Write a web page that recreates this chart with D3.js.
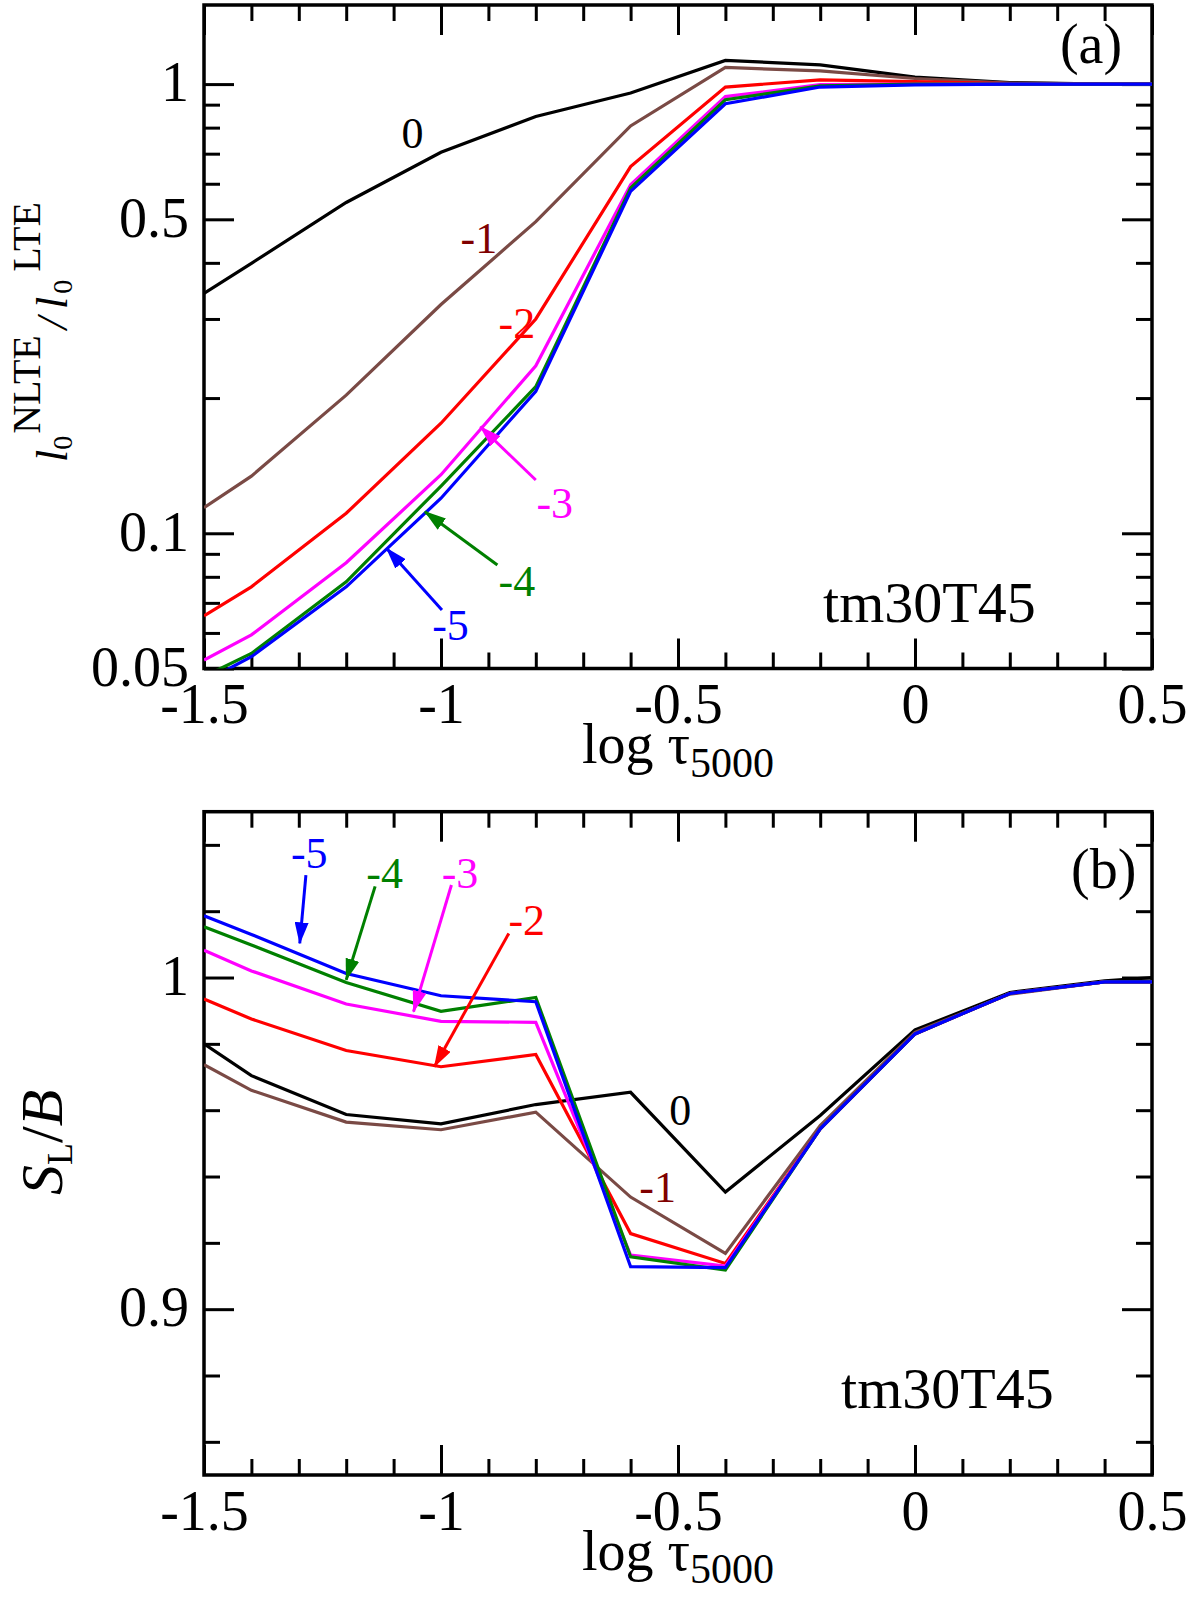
<!DOCTYPE html>
<html>
<head>
<meta charset="utf-8">
<script src="https://cdn.jsdelivr.net/npm/d3@7"></script>
<style>
  body { margin: 0; background: #fff; }
  svg { display: block; }
  text { font-family: "Liberation Serif", "Times New Roman", serif; }
</style>
</head>
<body>
<svg id="chart"></svg>
<script>
// log tau_5000 grid
const logTau = [-1.5, -1.4, -1.2, -1.0, -0.8, -0.6, -0.4, -0.2, 0, 0.2, 0.4, 0.5];
const curveNames = ["0", "-1", "-2", "-3", "-4", "-5"];

// (a) l0 NLTE / l0 LTE
const ratio0  = [0.342, 0.399, 0.545, 0.705, 0.847, 0.955, 1.129, 1.104, 1.036, 1.008, 1.0, 1.0];
const ratioM1 = [0.114, 0.134, 0.203, 0.323, 0.494, 0.807, 1.089, 1.070, 1.029, 1.005, 1.0, 1.0];
const ratioM2 = [0.0655, 0.076, 0.1108, 0.1758, 0.300, 0.655, 0.985, 1.022, 1.013, 1.002, 1.0, 1.0];
const ratioM3 = [0.0522, 0.0594, 0.086, 0.135, 0.236, 0.597, 0.938, 0.997, 1.0, 1.0, 1.0, 1.0];
const ratioM4 = [0.048, 0.054, 0.078, 0.1274, 0.212, 0.587, 0.923, 0.991, 1.0, 1.0, 1.0, 1.0];
const ratioM5 = [0.0467, 0.0531, 0.076, 0.1197, 0.207, 0.577, 0.904, 0.985, 0.996, 1.0, 1.0, 1.0];

// (b) S_L / B
const slb0  = [0.980, 0.9704, 0.9587, 0.9559, 0.9617, 0.9654, 0.9353, 0.9584, 0.9842, 0.9955, 0.999, 1.0];
const slbM1 = [0.9737, 0.966, 0.9564, 0.9541, 0.9594, 0.9338, 0.9168, 0.9554, 0.9835, 0.995, 0.9987, 0.9987];
const slbM2 = [0.9935, 0.9875, 0.978, 0.9731, 0.9768, 0.9228, 0.9138, 0.9544, 0.983, 0.9952, 0.9987, 0.9987];
const slbM3 = [1.0082, 1.002, 0.992, 0.9868, 0.9865, 0.9163, 0.913, 0.9544, 0.983, 0.9952, 0.9987, 0.9987];
const slbM4 = [1.0153, 1.0098, 0.9985, 0.9898, 0.994, 0.9158, 0.9118, 0.9544, 0.983, 0.9952, 0.9987, 0.9987];
const slbM5 = [1.0186, 1.013, 1.0012, 0.9945, 0.9927, 0.9128, 0.9125, 0.9544, 0.983, 0.9952, 0.9987, 0.9987];

// tick labels
const xTicks = [-1.5, -1, -0.5, 0, 0.5];
const yTicksA = [0.05, 0.1, 0.5, 1];
const yMinorA = [0.06, 0.07, 0.08, 0.09, 0.2, 0.3, 0.4, 0.6, 0.7, 0.8, 0.9];
const yTicksB = [0.9, 1.0];
const yMinorB = [0.86, 0.88, 0.92, 0.94, 0.96, 0.98, 1.02, 1.04];

const colors = ["#000000", "#7a4a45", "#ff0000", "#ff00ff", "#008000", "#0000ff"];
const labelColors = ["#000000", "#800000", "#ff0000", "#ff00ff", "#008000", "#0000ff"];

const width = 1200, height = 1607;
const left = 204, right = 1152;

const svg = d3.select("#chart").attr("width", width).attr("height", height);
svg.append("rect").attr("width", width).attr("height", height).attr("fill", "#fff");

const x = d3.scaleLinear().domain([-1.5, 0.5]).range([left, right]);
const yA = d3.scaleLog().domain([0.05, 1.5]).range([668.5, 5]);
const yB = d3.scaleLinear().domain([0.85, 1.05]).range([1475, 811.7]);

const xMinor = d3.range(-14, 5).map(d => d / 10).filter(d => !xTicks.some(t => Math.abs(t - d) < 1e-9));

// arrow heads
const defs = svg.append("defs");
colors.forEach((c, i) => {
    defs.append("marker")
        .attr("id", "ah" + i)
        .attr("markerUnits", "userSpaceOnUse")
        .attr("markerWidth", 22).attr("markerHeight", 14)
        .attr("refX", 21).attr("refY", 7)
        .attr("orient", "auto")
        .append("path").attr("d", "M0,0 L22,7 L0,14 Z").attr("fill", c);
});

function drawFrame(y, yMajor, yMinor, id) {
    const [yBot, yTop] = y.range();
    const g = svg.append("g");

    const addAxis = (axis, transform) => {
        const a = g.append("g").attr("transform", transform).call(axis);
        a.select(".domain").remove();
        a.attr("font-size", 56).attr("font-family", "Liberation Serif, serif");
        a.selectAll("line").attr("stroke", "#000").attr("stroke-width", 3);
        a.selectAll("text").attr("fill", "#000");
        return a;
    };
    const fmt = d => String(d);

    addAxis(d3.axisBottom(x).tickValues(xTicks).tickSize(-30).tickPadding(15).tickFormat(fmt), `translate(0,${yBot})`);
    addAxis(d3.axisBottom(x).tickValues(xMinor).tickSize(-16).tickFormat(""), `translate(0,${yBot})`);
    addAxis(d3.axisTop(x).tickValues(xTicks).tickSize(-30).tickFormat(""), `translate(0,${yTop})`);
    addAxis(d3.axisTop(x).tickValues(xMinor).tickSize(-16).tickFormat(""), `translate(0,${yTop})`);

    addAxis(d3.axisLeft(y).tickValues(yMajor).tickSize(-30).tickPadding(15).tickFormat(fmt), `translate(${left},0)`)
        .selectAll("text").attr("dy", "0.3em");
    addAxis(d3.axisLeft(y).tickValues(yMinor).tickSize(-16).tickFormat(""), `translate(${left},0)`);
    addAxis(d3.axisRight(y).tickValues(yMajor).tickSize(-30).tickFormat(""), `translate(${right},0)`);
    addAxis(d3.axisRight(y).tickValues(yMinor).tickSize(-16).tickFormat(""), `translate(${right},0)`);

    g.append("rect")
        .attr("x", left).attr("y", yTop)
        .attr("width", right - left).attr("height", yBot - yTop)
        .attr("fill", "none").attr("stroke", "#000").attr("stroke-width", 3.5);

    defs.append("clipPath").attr("id", id)
        .append("rect").attr("x", left).attr("y", yTop)
        .attr("width", right - left).attr("height", yBot - yTop);

    // x axis title
    const t = svg.append("text")
        .attr("x", (left + right) / 2).attr("y", yBot + 94.5)
        .attr("text-anchor", "middle").attr("font-size", 56);
    t.append("tspan").text("log \u03C4");
    t.append("tspan").attr("font-size", 42).attr("dy", 13.5).text("5000");
}

function drawCurves(y, series, id) {
    const line = d3.line()
        .x((d, i) => x(logTau[i]))
        .y(d => y(d));
    svg.append("g").attr("clip-path", `url(#${id})`)
        .selectAll("path").data(series).join("path")
        .attr("d", line)
        .attr("fill", "none")
        .attr("stroke", (d, i) => colors[i])
        .attr("stroke-width", 3.2)
        .attr("stroke-linejoin", "miter");
}

function drawNotes(y, labels, arrows) {
    svg.append("g").selectAll("text").data(labels).join("text")
        .attr("x", d => x(d.x)).attr("y", d => y(d.y))
        .attr("text-anchor", "middle").attr("font-size", 44)
        .attr("fill", d => labelColors[d.c])
        .text(d => curveNames[d.c]);
    svg.append("g").selectAll("line").data(arrows).join("line")
        .attr("x1", d => x(d.x1)).attr("y1", d => y(d.y1))
        .attr("x2", d => x(d.x2)).attr("y2", d => y(d.y2))
        .attr("stroke", d => colors[d.c]).attr("stroke-width", 3)
        .attr("marker-end", d => `url(#ah${d.c})`);
}

// ---------- panel (a)
drawFrame(yA, yTicksA, yMinorA, "clipA");
drawCurves(yA, [ratio0, ratioM1, ratioM2, ratioM3, ratioM4, ratioM5], "clipA");
drawNotes(yA,
    [{c: 0, x: -1.06, y: 0.72}, {c: 1, x: -0.92, y: 0.42}, {c: 2, x: -0.84, y: 0.272},
     {c: 3, x: -0.76, y: 0.108}, {c: 4, x: -0.84, y: 0.0725}, {c: 5, x: -0.98, y: 0.058}],
    [{c: 3, x1: -0.80, y1: 0.1314, x2: -0.917, y2: 0.1727},
     {c: 4, x1: -0.881, y1: 0.085, x2: -1.034, y2: 0.1117},
     {c: 5, x1: -0.998, y1: 0.0675, x2: -1.115, y2: 0.0926}]);

svg.append("text").attr("x", x(0.437)).attr("y", yA(1.114))
    .attr("text-anchor", "end").attr("font-size", 56).text("(a)");
svg.append("text").attr("x", x(-0.194)).attr("y", yA(0.0636))
    .attr("font-size", 58).text("tm30T45");

const labA = svg.append("text")
    .attr("transform", "translate(67,462) rotate(-90)")
    .attr("font-size", 44);
labA.append("tspan").attr("font-style", "italic").text("l");
labA.append("tspan").attr("font-size", 28).attr("dy", 5).text("0");
labA.append("tspan").attr("font-size", 40).attr("dy", -32).attr("dx", 2).text("NLTE");
labA.append("tspan").attr("font-style", "italic").attr("dy", 27).attr("dx", 6).text("/");
labA.append("tspan").attr("font-style", "italic").attr("dx", 8).text("l");
labA.append("tspan").attr("font-size", 28).attr("dy", 5).attr("dx", 3).text("0");
labA.append("tspan").attr("font-size", 40).attr("dy", -32).attr("dx", 8).text("LTE");

// ---------- panel (b)
drawFrame(yB, yTicksB, yMinorB, "clipB");
drawCurves(yB, [slb0, slbM1, slbM2, slbM3, slbM4, slbM5], "clipB");
drawNotes(yB,
    [{c: 5, x: -1.278, y: 1.0329}, {c: 4, x: -1.119, y: 1.0269}, {c: 3, x: -0.96, y: 1.0269},
     {c: 2, x: -0.819, y: 1.0128}, {c: 0, x: -0.495, y: 0.9555}, {c: 1, x: -0.543, y: 0.9324}],
    [{c: 5, x1: -1.285, y1: 1.0309, x2: -1.298, y2: 1.0103},
     {c: 4, x1: -1.139, y1: 1.0275, x2: -1.20, y2: 0.9993},
     {c: 3, x1: -0.978, y1: 1.0279, x2: -1.058, y2: 0.9897},
     {c: 2, x1: -0.857, y1: 1.0133, x2: -1.014, y2: 0.9731}]);

svg.append("text").attr("x", x(0.467)).attr("y", yB(1.027))
    .attr("text-anchor", "end").attr("font-size", 56).text("(b)");
svg.append("text").attr("x", x(-0.156)).attr("y", yB(0.8702))
    .attr("font-size", 58).text("tm30T45");

const labB = svg.append("text")
    .attr("transform", "translate(62,1195) rotate(-90)")
    .attr("font-size", 60);
labB.append("tspan").attr("font-style", "italic").text("S");
labB.append("tspan").attr("font-size", 36).attr("dy", 10).text("L");
labB.append("tspan").attr("dy", -10).text("/");
labB.append("tspan").attr("font-style", "italic").text("B");
</script>
</body>
</html>
